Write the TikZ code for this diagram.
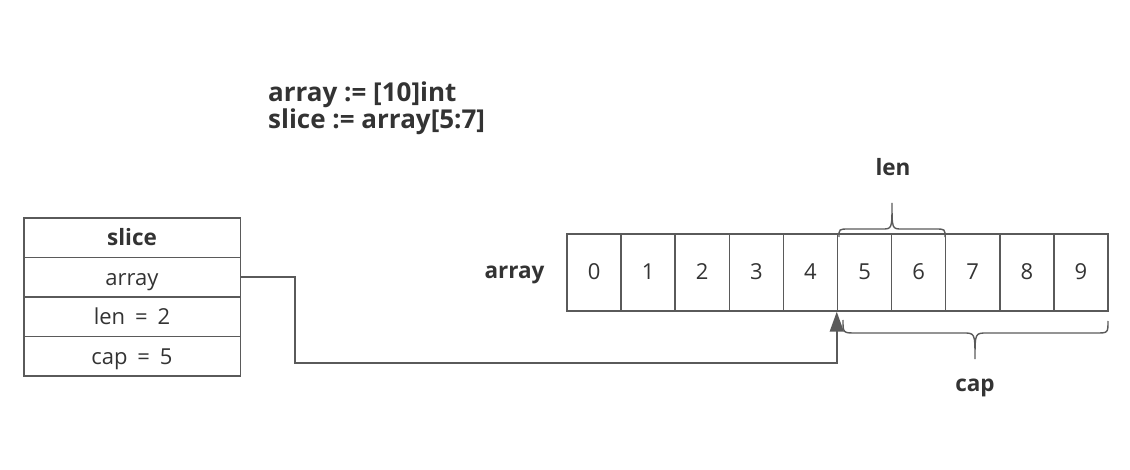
\documentclass[tikz,border=0pt]{standalone}
\usepackage{fontspec}
\setmainfont{Open Sans}
\usetikzlibrary{arrows.meta,calc}
\definecolor{ln}{HTML}{5A5A5A}
\definecolor{tx}{HTML}{333333}
\tikzset{
  every node/.style={text=tx},
  regfont/.style={font=\fontsize{22}{26}\selectfont},
  cellbox/.style={draw=ln,line width=1.5pt,minimum width=54.1pt,minimum height=77pt,inner sep=0pt,regfont,text height=17pt,text depth=2pt},
  rowbox/.style={draw=ln,line width=1.5pt,minimum width=216.5pt,minimum height=39.5pt,inner sep=0pt,regfont,text height=18pt,text depth=2pt},
  boldlbl/.style={font=\fontsize{22.5}{26}\bfseries\selectfont},
  titlefont/.style={font=\fontsize{26}{27}\bfseries\selectfont,inner sep=0pt,anchor=base west},
  conn/.style={draw=ln,line width=1.5pt},
  bracepath/.style={draw=ln,line width=1.4pt}
}
\newcommand{\eqgap}{\hspace{0.45em}}
\begin{document}
\begin{tikzpicture}[x=1pt,y=-1pt]
\useasboundingbox (0,0) rectangle (1130,470);
% title
\node[titlefont] (title1) at (268,102) {array := [10]int};
\node[titlefont] (title2) at (268,129) {slice := array[5:7]};
% slice struct
\node[rowbox,font=\fontsize{22.5}{26}\bfseries\selectfont] (s0) at (132,237.75) {slice};
\node[rowbox] (s1) at (132,277.25) {array};
\node[rowbox] (s2) at (132,316.75) {len\eqgap=\eqgap2};
\node[rowbox] (s3) at (132,356.25) {cap\eqgap=\eqgap5};
% array cells
\foreach \i in {0,...,9}{
  \node[cellbox] (c\i) at ({567+54.1*(\i+0.5)},272.5) {\i};
}
\node[boldlbl,anchor=east] (alabel) at (548,275) {array};
% len brace
\coordinate (lenL) at (839,237);
\coordinate (lenR) at (945,237);
\draw[bracepath] (lenL) .. controls (839,229) .. (849,229) -- (882,229) .. controls (892,229) .. (892,203)
   .. controls (892,229) .. (902,229) -- (935,229) .. controls (945,229) .. (lenR);
\node[boldlbl] (lenlbl) at (893,167) {len};
% cap brace
\coordinate (capL) at (843,320);
\coordinate (capR) at (1108,321);
\draw[bracepath] (capL) .. controls (843,333) .. (856,333) -- (963,333) .. controls (975,333) .. (975,359)
   .. controls (975,333) .. (987,333) -- (1096,333) .. controls (1108,333) .. (capR);
\node[boldlbl] (caplbl) at (975,388) {cap};
% pointer
\coordinate (k) at (295,363);
\draw[conn,-{Triangle[length=20pt,width=14pt]}] (s1.east) -| (k) -| (c5.south west);
\end{tikzpicture}
\end{document}
